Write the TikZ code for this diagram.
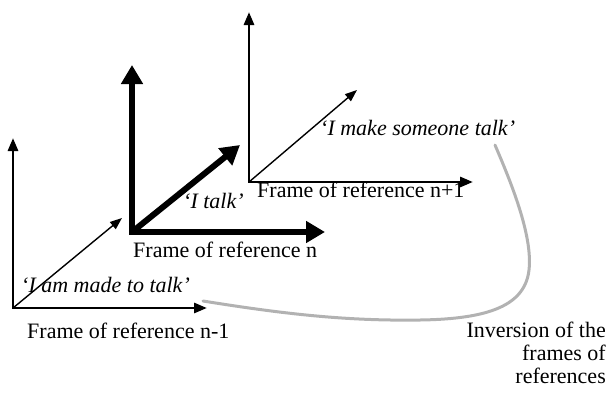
\documentclass[tikz,border=0pt]{standalone}
\usepackage{fontspec}
\setmainfont{Liberation Serif}
\usetikzlibrary{arrows.meta}
\begin{document}
\begin{tikzpicture}[x=1pt,y=-1pt,
  axboth/.style={line width=2.8pt,{Triangle[length=13pt,width=10pt]}-{Triangle[length=13pt,width=10pt]},line join=miter},
  diag/.style={line width=1.4pt,-{Triangle[length=12pt,width=9pt]}},
  axthickboth/.style={line width=6pt,{Triangle[length=19pt,width=21pt]}-{Triangle[length=19pt,width=21pt]},line join=miter},
  diagthick/.style={line width=6pt,-{Triangle[length=19pt,width=21pt]}},
  lbl/.style={inner sep=0pt,font=\fontsize{22}{26}\selectfont},
  quote/.style={lbl,font=\fontsize{22}{26}\selectfont\itshape},
  inv/.style={draw=black!30,line width=3pt,line cap=round}]
\useasboundingbox (0,0) rectangle (611,394);
% frame n-1
\coordinate (o1) at (13,308);
\coordinate (y1) at (13,138);
\coordinate (x1) at (207,308);
\coordinate (d1) at (122,218);
\draw[axboth] (y1) -- (o1) -- (x1);
\draw[diag] (o1) -- (d1);
% frame n
\coordinate (o2) at (132,232);
\coordinate (y2) at (132,65);
\coordinate (x2) at (325,232);
\coordinate (d2) at (240,145);
\draw[axthickboth] (y2) -- (o2) -- (x2);
\draw[diagthick] (o2) -- (d2);
% frame n+1
\coordinate (o3) at (249,182);
\coordinate (y3) at (249,12);
\coordinate (x3) at (473,182);
\coordinate (d3) at (357,90);
\draw[axboth] (y3) -- (o3) -- (x3);
\draw[diag] (o3) -- (d3);
% labels
\node[quote,anchor=base west] (q1) at (21,292) {‘I am made to talk’};
\node[lbl,anchor=base west] (f1) at (27,338) {Frame of reference n-1};
\node[quote,anchor=base west] (q2) at (183,208) {‘I talk’};
\node[lbl,anchor=base west] (f2) at (133,257) {Frame of reference n};
\node[lbl,anchor=base west] (f3) at (257,197) {Frame of reference n+1};
\node[quote,anchor=base west] (q3) at (320,135) {‘I make someone talk’};
\node[lbl,anchor=north east,align=right,font=\fontsize{22}{23}\selectfont] (inv) at (606,322) {Inversion of the\\frames of\\references};
% inversion curve
\coordinate (c1) at (203,301);
\coordinate (c2) at (420,320);
\coordinate (c3) at (529,270);
\coordinate (c4) at (495,145);
\draw[inv] (c1) .. controls (290,315) and (350,321) .. (c2)
  .. controls (490,319) and (525,305) .. (c3)
  .. controls (533,235) and (510,180) .. (c4);
\end{tikzpicture}
\end{document}
